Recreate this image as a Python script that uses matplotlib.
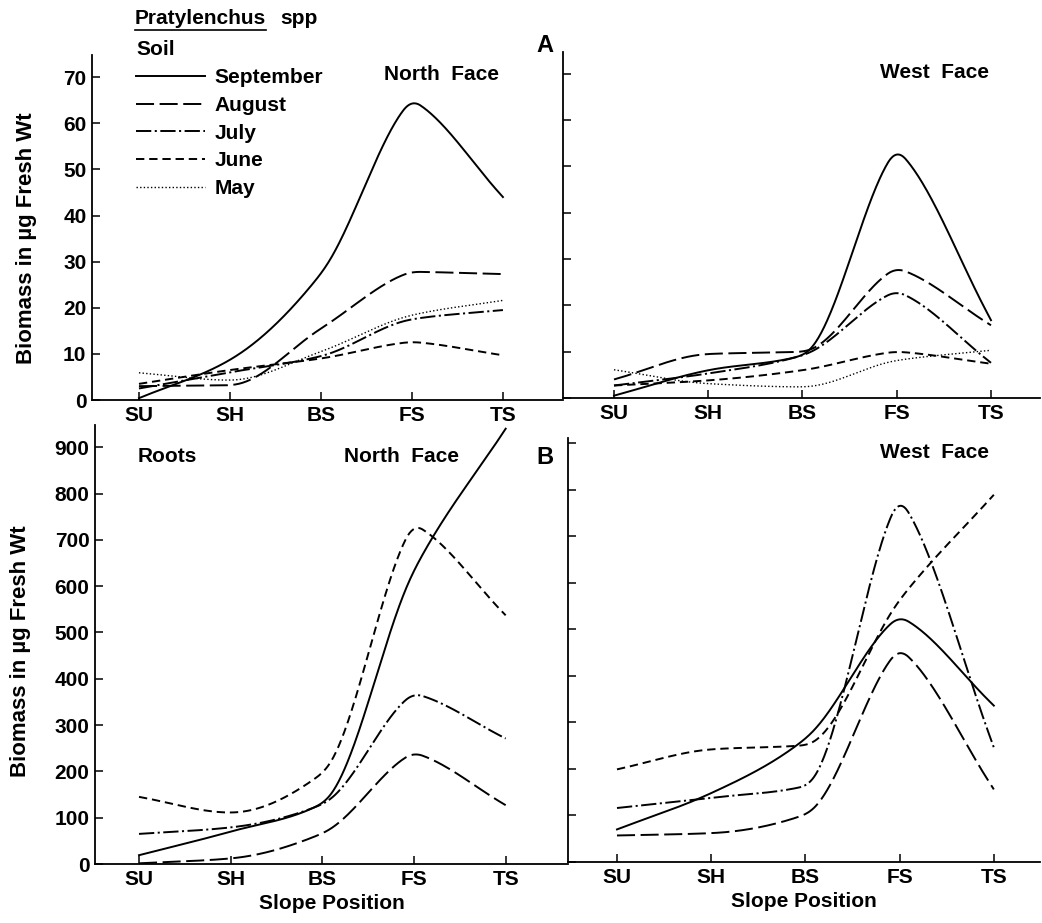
import numpy as np
import matplotlib
matplotlib.use("Agg")
import matplotlib.pyplot as plt
from matplotlib.lines import Line2D

plt.rcParams['font.family'] = ['Liberation Sans', 'DejaVu Sans']
plt.rcParams['font.weight'] = 'bold'
plt.rcParams['axes.labelweight'] = 'bold'
plt.rcParams['lines.scale_dashes'] = False

positions = ["SU", "SH", "BS", "FS", "TS"]
months = ["September", "August", "July", "June", "May"]

# Soil, North Face (ug fresh wt)
soil_north = {
    "September": [0.4, 8.7, 27.4, 65.0, 44.0],
    "August":    [3.0, 3.2, 15.5, 27.8, 27.3],
    "July":      [2.5, 6.0, 9.5, 17.5, 19.5],
    "June":      [3.5, 6.5, 9.0, 12.6, 9.7],
    "May":       [5.9, 4.3, 10.5, 18.4, 21.6],
}
# Soil, West Face
soil_west = {
    "September": [0.5, 6.0, 9.2, 53.6, 16.8],
    "August":    [4.0, 9.5, 10.0, 28.0, 15.7],
    "July":      [2.7, 5.3, 9.2, 23.0, 7.6],
    "June":      [2.7, 3.8, 6.0, 10.0, 7.4],
    "May":       [6.1, 3.1, 2.4, 8.1, 10.3],
}
# Roots, North Face
roots_north = {
    "September": [19, 70, 131, 634, 940],
    "August":    [1.5, 12, 66, 240, 127],
    "July":      [65, 79, 129, 368, 271],
    "June":      [145, 111, 196, 733, 537],
}
# Roots, West Face
roots_west = {
    "September": [70, 148, 265, 527, 336],
    "August":    [57, 62, 102, 457, 156],
    "July":      [116, 138, 163, 780, 246],
    "June":      [199, 242, 251, 563, 789],
}

styles = {
    "September": dict(linestyle='-'),
    "August":    dict(linestyle=(0, (13, 4))),
    "July":      dict(linestyle=(0, (11, 2.5, 1.5, 2.5))),
    "June":      dict(linestyle=(0, (6, 3.5))),
    "May":       dict(linestyle=(0, (1, 1.6)), linewidth=1.0),
}


def smooth(y, num=401, peak=0.45, win=19):
    # hand-drawn style curve through the readings (drawing only):
    # cubic hermite, slightly pointed at maxima, round at minima
    y = np.asarray(y, dtype=float)
    n = len(y)
    d = np.diff(y)
    ml = np.zeros(n)
    mr = np.zeros(n)
    for k in range(1, n - 1):
        if d[k - 1] * d[k] > 0:
            ml[k] = mr[k] = 2.0 / (1.0 / d[k - 1] + 1.0 / d[k])
        elif d[k - 1] > 0 and d[k] < 0:
            ml[k] = peak * d[k - 1]
            mr[k] = peak * d[k]
    mr[0] = d[0]
    ml[-1] = d[-1]
    xs = np.linspace(0, n - 1, num)
    idx = np.clip(np.floor(xs).astype(int), 0, n - 2)
    t = xs - idx
    h00 = 2 * t**3 - 3 * t**2 + 1
    h10 = t**3 - 2 * t**2 + t
    h01 = -2 * t**3 + 3 * t**2
    h11 = t**3 - t**2
    ys = h00 * y[idx] + h10 * mr[idx] + h01 * y[idx + 1] + h11 * ml[idx + 1]
    # odd reflection at the ends keeps the end points in place
    pad = win // 2
    left = 2 * ys[0] - ys[pad:0:-1]
    right = 2 * ys[-1] - ys[-2:-pad - 2:-1]
    yp = np.concatenate([left, ys, right])
    ys = np.convolve(yp, np.ones(win) / win, mode='valid')
    return xs, ys


W, H = 1042, 923
fig = plt.figure(figsize=(W / 100, H / 100), dpi=100)


def px_axes(left, right, top, bottom):
    return fig.add_axes([left / W, 1 - bottom / H, (right - left) / W, (bottom - top) / H])


ax_tl = px_axes(92, 563, 55, 400)
ax_tr = px_axes(563, 1040, 52, 398)
ax_bl = px_axes(95, 568, 425, 864)
ax_br = px_axes(568, 1040, 438, 862)

panels = [
    (ax_tl, soil_north, (-0.516, 4.66), (0, 74.8), np.arange(0, 71, 10), True),
    (ax_tr, soil_west, (-0.541, 4.52), (0, 74.7), np.arange(0, 71, 10), False),
    (ax_bl, roots_north, (-0.48, 4.68), (0, 948), np.arange(0, 901, 100), True),
    (ax_br, roots_west, (-0.52, 4.49), (0, 911), np.arange(0, 901, 100), False),
]

legend_lines = {}
for ax, data, xl, yl, yt, show_labels in panels:
    for mname, vals in data.items():
        xs, ys = smooth(vals)
        st = dict(color='black', linewidth=1.4)
        st.update(styles[mname])
        ln, = ax.plot(xs, ys, **st)
        legend_lines.setdefault(mname, ln)
    ax.set_xlim(*xl)
    ax.set_ylim(*yl)
    ax.set_xticks(range(len(positions)))
    ax.set_xticklabels(positions)
    ax.set_yticks(yt)
    if not show_labels:
        ax.set_yticklabels([])
    for s in ('top', 'right'):
        ax.spines[s].set_visible(False)
    for s in ('left', 'bottom'):
        ax.spines[s].set_linewidth(1.3)
    ax.tick_params(direction='in', length=6, width=1.1, labelsize=15, pad=4)
    ax.set_facecolor('none')

ax_bl.set_xlabel("Slope Position", fontsize=15, labelpad=4)
ax_br.set_xlabel("Slope Position", fontsize=15, labelpad=4)

fig.text(27 / W, 1 - 238 / H, "Biomass in µg Fresh Wt", rotation=90,
         ha='center', va='center', fontsize=16)
fig.text(21 / W, 1 - 651 / H, "Biomass in µg Fresh Wt", rotation=90,
         ha='center', va='center', fontsize=16)

fig.text(441 / W, 1 - 74 / H, "North  Face", ha='center', va='center', fontsize=15)
fig.text(934 / W, 1 - 72 / H, "West  Face", ha='center', va='center', fontsize=15)
fig.text(401 / W, 1 - 457 / H, "North  Face", ha='center', va='center', fontsize=15)
fig.text(934 / W, 1 - 453 / H, "West  Face", ha='center', va='center', fontsize=15)
fig.text(138 / W, 1 - 457 / H, "Roots", ha='left', va='center', fontsize=15)
fig.text(545 / W, 1 - 45 / H, "A", ha='center', va='center', fontsize=17)
fig.text(545 / W, 1 - 457 / H, "B", ha='center', va='center', fontsize=17)

fig.text(135 / W, 1 - 18 / H, "Pratylenchus", ha='left', va='center', fontsize=15)
fig.text(280 / W, 1 - 18 / H, "spp", ha='left', va='center', fontsize=15)
fig.add_artist(Line2D([135 / W, 266 / W], [1 - 30 / H, 1 - 30 / H], color='black', linewidth=1.2))

leg = ax_tl.legend([legend_lines[m] for m in months], months, title="Soil",
                   loc='upper left', bbox_to_anchor=(126 / W, 1 - 30 / H),
                   bbox_transform=fig.transFigure, frameon=False, fontsize=15,
                   title_fontsize=15, handlelength=3.3, handletextpad=0.45,
                   labelspacing=0.42, borderpad=0, alignment='left')
for txt in leg.get_texts():
    txt.set_fontweight('bold')
leg.get_title().set_fontweight('bold')

fig.savefig("out.png", dpi=100)
